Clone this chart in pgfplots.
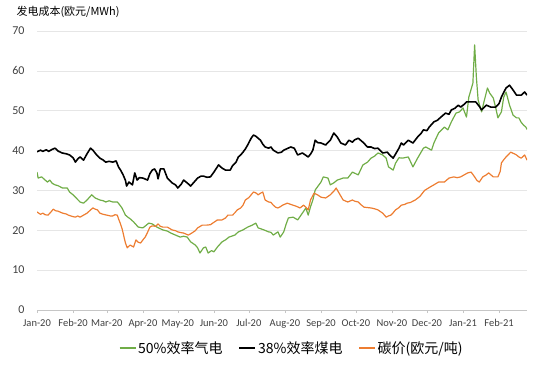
\documentclass[border=0pt]{standalone}
\usepackage{fontspec}
\setmainfont{Carlito}
\newfontfamily\cjk{Noto Sans CJK SC}
\usepackage{pgfplots}
\usepackage{pgfplotstable}
\pgfplotsset{compat=1.18}
\definecolor{gasgreen}{HTML}{70AD47}
\definecolor{carbonorange}{HTML}{ED7D31}
\definecolor{gridgray}{HTML}{E6E6E6}
\definecolor{labelgray}{HTML}{404040}

% x = days since 1 Jan 2020
\pgfplotstableread{
d v
0 39.7
3 40.1
5 39.8
8 40.2
10 39.8
13 40.3
15.5 40.6
18 39.9
21.5 39.4
25 39.2
28 38.9
31 38.2
33 37.1
35 37.9
37 38.4
40 37.6
43 39.2
46 40.6
48 40.1
51 39.0
54 38.1
57 37.6
59 37.1
62 37.3
65 37.1
68 37.4
70 35.9
72 35.0
74 33.9
76 32.5
77 31.1
79 32.1
82 31.4
84 34.4
86 32.6
88 33.2
91 33.1
95 32.6
97 34.2
99 35.1
101 35.4
103 34.4
104 32.9
106 35.4
109 35.4
112 33.1
116 31.9
119 31.4
121 30.6
124 31.6
126 32.6
129 31.9
132 31.1
135 32.1
138 33.1
141 33.6
143 33.6
146 33.3
149 33.4
152 34.6
156 36.4
159 35.6
162 35.1
166 35.1
168 36.2
171 37.1
173 38.4
175 38.9
177 39.6
179 40.4
181 41.4
184 43.1
186 43.9
188 43.6
190 43.1
192 42.6
194 41.6
196 40.9
199 40.6
201 40.9
203 40.1
207 39.4
210 39.6
212 40.1
215 40.5
218 40.9
221 40.6
224 38.9
228 39.4
233 38.4
235 39.1
237 40.1
239 42.6
241 42.0
244 41.9
248 41.4
252 42.6
255 44.4
258 43.4
261 41.9
265 41.4
268 42.6
271 42.1
273 42.7
276 43.1
280 42.1
284 40.9
287 40.9
290 40.5
293 40.6
297 39.4
301 39.6
303 38.9
306 38.1
309 39.6
311 40.6
313 41.9
315 41.4
319 42.6
323 41.9
327 43.4
330 44.3
332 45.2
335 45.0
337 45.9
341 47.2
344 47.6
347 48.4
351 49.4
354 49.1
356 50.2
359 50.6
362 51.4
364 50.9
367 51.6
369 52.2
373 52.2
377 52.2
380 51.1
382 50.2
386 51.4
390 50.9
394 50.9
397 51.8
399 53.4
401 54.6
403 55.7
406 56.4
409 55.2
412 53.9
416 53.9
419 54.7
421 53.9
}\coal

\pgfplotstableread{
d v
0 34.6
1 33.1
4 33.4
7 32.6
9 32.1
11 32.6
13 31.8
15.5 31.4
18 31.2
20 30.9
22 30.6
26 30.6
28 29.6
31 28.9
33 28.3
37 27.1
40 26.8
43 27.6
47 28.9
50 28.1
54 27.6
57 27.4
59 27.1
62 27.4
65 27.1
69 27.1
71 26.4
73 25.6
76 23.8
78 23.3
80 22.9
83 22.1
87 20.8
91 20.6
94 21.3
96 21.8
99 21.6
103 20.8
108 20.1
112 19.8
115 19.3
119 18.8
123 18.3
126 18.5
129 18.3
132 17.1
136 16.3
138 15.6
140 14.3
143 15.6
145 15.8
147 14.3
150 14.9
152 14.6
155 15.8
159 17.1
162 17.6
165 18.3
170 18.8
173 19.6
177 20.1
181 20.8
185 21.3
188 21.8
190 20.6
195 20.1
199 19.6
201 19.5
203 18.8
207 19.6
209 18.3
212 19.6
214 21.5
216 23.1
220 23.3
224 22.6
228 24.3
231 25.6
233 23.8
235 25.9
237 27.6
239 30.1
244 32.1
246 33.4
250 33.1
252 31.4
255 31.9
258 32.6
263 33.1
267 33.1
271 34.6
276 33.9
280 36.4
284 37.1
287 38.1
290 38.6
293 39.4
297 38.9
300 38.1
302 35.9
306 35.1
308 36.8
311 38.2
314 38.1
319 38.4
323 35.9
327 38.1
332 40.6
334 40.9
339 40.1
341 41.9
345 44.4
350 45.9
353 45.2
356 47.2
360 49.4
363 49.7
366 50.7
369 48.4
371 53.4
374.5 56.9
376 66.5
377.5 58.4
379 52.7
382 49.7
384 52.2
387 55.7
389 54.4
392 53.2
394 50.9
396 48.2
399 49.7
401 53.4
403 54.7
406 51.4
409 48.9
412 48.2
414 48.2
416 47.1
418 46.4
420 45.9
421 45.3
}\gas

\pgfplotstableread{
d v
0 24.6
3 24.0
5 24.3
7 23.9
9.5 23.8
12 24.6
14 25.3
16 24.9
18 24.8
22 24.3
25 24.1
27 23.8
30 23.5
33 23.3
35 23.6
37 23.3
40 23.8
43 24.3
46 25.1
48 25.6
50 25.3
52 25.1
54 24.3
57 24.0
60 23.8
63 23.6
65 23.6
67 23.9
69 23.8
70 22.9
71.5 21.8
73 20.5
74 19.3
75 18.0
76 16.8
77.5 15.6
80 16.3
83 15.8
85 17.6
87 17.0
89 16.8
91 17.6
93 18.3
95 19.5
97 20.8
99 21.1
102 21.0
104 21.6
106 21.0
108 20.8
112 20.8
116 20.1
119 19.9
121 19.6
124 19.4
126 19.3
130 18.8
133 19.3
136 19.9
138 20.6
142 21.3
146 21.3
149 21.4
151 21.8
155 22.6
159 22.6
162 23.1
164 23.8
168 23.8
170 24.4
172 25.1
175 25.6
177 26.3
179 27.6
182 28.2
184 28.9
186 29.6
188 29.4
190 28.9
192 29.3
194 29.6
196 27.6
199 27.1
201 27.0
203 26.3
205 25.8
207 25.6
209 25.9
211 26.3
215 26.8
218 26.5
220 26.3
223 26.0
226 25.6
229 26.3
231 25.8
233 25.1
235 27.6
238 29.3
241 28.9
244 28.3
248 28.1
252 28.9
255 29.8
257 30.6
259 29.6
261 28.6
263 27.6
267 27.1
271 27.6
273 27.3
276 27.1
278 26.5
281 25.8
284 25.7
287 25.6
290 25.4
293 25.1
297 24.3
300 23.3
302 23.6
304 23.8
306 24.4
308 25.1
311 25.7
313 26.3
316 26.5
318 26.8
321 27.0
325 27.6
329 28.5
333 30.0
338 30.9
341 31.4
345 32.1
350 32.1
354 33.1
358 33.4
361 33.2
364 33.4
367 33.9
370 34.4
373 34.6
376 33.4
378 32.5
380 32.1
383 33.4
386 33.9
388 34.4
392 33.4
396 33.4
398 34.8
399 36.9
401 37.7
403 38.4
405 39.0
407 39.6
410 39.2
412 38.9
414 38.4
416 38.1
419 38.9
421 37.6
}\carbon

\begin{document}
\begin{tikzpicture}
\useasboundingbox (0,0) rectangle (536bp,366bp);
\begin{axis}[
  at={(37bp,56bp)}, anchor=south west,
  scale only axis, width=490bp, height=279bp,
  xmin=0, xmax=421, ymin=0, ymax=70,
  xtick={0,31,60,91,121,152,182,213,244,274,305,335,366,397},
  xticklabels={Jan-20,Feb-20,Mar-20,Apr-20,May-20,Jun-20,Jul-20,Aug-20,Sep-20,Oct-20,Nov-20,Dec-20,Jan-21,Feb-21},
  ytick={0,10,...,70},
  axis x line=bottom, axis y line=left,
  x axis line style={-, draw=gray!45},
  y axis line style={draw=none},
  ytick style={draw=none},
  xtick style={draw=gray!45},
  tick align=outside, major tick length=3bp,
  ymajorgrids, major grid style={gridgray, line width=0.6pt},
  /pgf/number format/assume math mode=true,
  xticklabel style={font=\fontsize{10.5bp}{12bp}\selectfont, text=labelgray, yshift=-3bp},
  yticklabel style={font=\fontsize{12bp}{14bp}\selectfont, text=labelgray, xshift=-6bp},
  legend columns=3,
  legend style={draw=none, fill=none, at={(0.52,-0.136)}, anchor=center,
    font=\cjk\fontsize{14bp}{16bp}\selectfont,
    /tikz/every even column/.append style={column sep=14bp}},
  legend image code/.code={\draw[#1] (0bp,0bp) -- (16bp,0bp);},
]
\addplot[gasgreen, line width=1.2pt, line join=round] table[x=d,y=v] {\gas};
\addlegendentry{50\%效率气电}
\addplot[black, line width=1.6pt, line join=round] table[x=d,y=v] {\coal};
\addlegendentry{38\%效率煤电}
\addplot[carbonorange, line width=1.2pt, line join=round] table[x=d,y=v] {\carbon};
\addlegendentry{碳价(欧元/吨)}
\end{axis}
\node[anchor=west, font=\cjk\fontsize{11bp}{13bp}\selectfont] at (13bp,354bp) {发电成本(欧元/MWh)};
\end{tikzpicture}
\end{document}
